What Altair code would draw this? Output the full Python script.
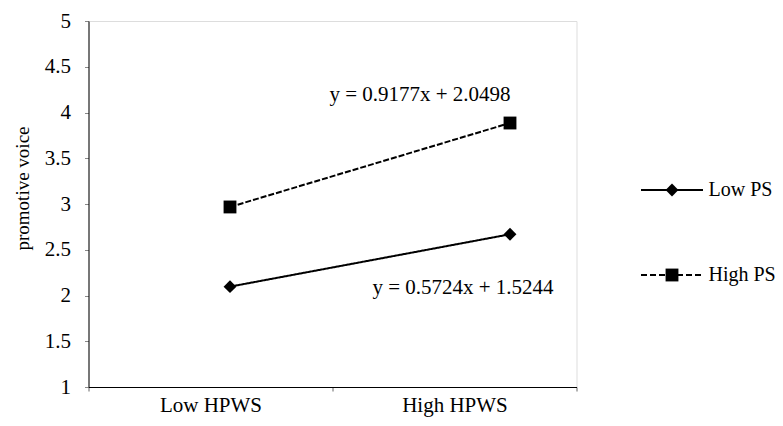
import altair as alt
import pandas as pd

hpws = ["Low HPWS", "High HPWS"]
series = ["Low PS", "High PS"]
low_ps = [2.0968, 2.6692]
high_ps = [2.9675, 3.8852]
y_ticks = [1, 1.5, 2, 2.5, 3, 3.5, 4, 4.5, 5]
eq_high = "y = 0.9177x + 2.0498"
eq_low = "y = 0.5724x + 1.5244"

FONT = "Liberation Serif"

rows = []
for name, vals in zip(series, [low_ps, high_ps]):
    for h, v in zip(hpws, vals):
        rows.append({"hpws": h, "series": name, "voice": v})
df = pd.DataFrame(rows)

W, H = 488, 366

x_pts = alt.X("hpws:N", sort=hpws, axis=None,
              scale=alt.Scale(type="point", domain=hpws, range=[141.5, 421.5], padding=0))
y_enc = alt.Y("voice:Q",
              scale=alt.Scale(domain=[1, 5], nice=False, zero=False),
              axis=alt.Axis(values=y_ticks, format="~g", grid=False,
                            title="promotive voice", titleFont=FONT, titleFontSize=19,
                            titleFontWeight="normal", titleColor="black",
                            titleAngle=270, titleX=-66.5, titleY=167,
                            titleAlign="center", titleBaseline="middle",
                            labelFont=FONT, labelFontSize=21, labelColor="black",
                            labelPadding=14, tickSize=4, tickColor="#888888",
                            domainColor="black", domainWidth=1))

base = alt.Chart(df)
lines = base.mark_line(color="black", strokeWidth=2).encode(
    x=x_pts, y=y_enc,
    strokeDash=alt.StrokeDash("series:N", legend=None,
                              scale=alt.Scale(domain=series, range=[[1, 0], [6, 2]])),
    detail="series:N",
)
points = base.mark_point(filled=True, color="black", opacity=1, size=165).encode(
    x=x_pts, y="voice:Q",
    shape=alt.Shape("series:N", legend=None,
                    scale=alt.Scale(domain=series, range=["diamond", "square"])),
)

axis_layer = alt.Chart(pd.DataFrame({"hpws": hpws})).mark_point(opacity=0).encode(
    x=alt.X("hpws:N", sort=hpws, title=None,
            scale=alt.Scale(type="band", domain=hpws, paddingInner=0, paddingOuter=0),
            axis=alt.Axis(orient="bottom", tickBand="extent", labelAngle=0,
                          labelFont=FONT, labelFontSize=21, labelColor="black",
                          labelPadding=3, tickSize=4, tickColor="#666666",
                          domainColor="black", domainWidth=1, grid=False))
)

eq1 = alt.Chart(alt.Data(values=[{"t": eq_high}])).mark_text(
    font=FONT, fontSize=21, color="black", align="center", baseline="alphabetic"
).encode(text="t:N", x=alt.value(331.5), y=alt.value(80))
eq2 = alt.Chart(alt.Data(values=[{"t": eq_low}])).mark_text(
    font=FONT, fontSize=21, color="black", align="center", baseline="alphabetic"
).encode(text="t:N", x=alt.value(374.5), y=alt.value(273))

leg_layers = []
for name, ly, shp, dash in [("Low PS", 169, "diamond", [1, 0]), ("High PS", 254, "square", [6, 3])]:
    d = alt.Data(values=[{"label": name}])
    leg_layers.append(alt.Chart(d).mark_rule(color="black", strokeWidth=2, strokeDash=dash).encode(
        x=alt.value(552.5), x2=alt.value(614.5), y=alt.value(ly)))
    leg_layers.append(alt.Chart(d).mark_point(filled=True, color="black", opacity=1, size=165, shape=shp).encode(
        x=alt.value(583.5), y=alt.value(ly)))
    leg_layers.append(alt.Chart(d).mark_text(font=FONT, fontSize=20, color="black", align="left",
                                             baseline="middle").encode(
        text="label:N", x=alt.value(620), y=alt.value(ly)))

chart = alt.layer(lines, points, axis_layer, eq1, eq2, *leg_layers).resolve_scale(
    x="independent"
).properties(
    width=W, height=H,
    autosize=alt.AutoSizeParams(type="none"),
    padding={"left": 80.5, "top": 13, "right": 198.5, "bottom": 31},
).configure_view(stroke=None).configure(background="white")

chart.save("out.html", embed_options={"renderer": "svg", "actions": False})
